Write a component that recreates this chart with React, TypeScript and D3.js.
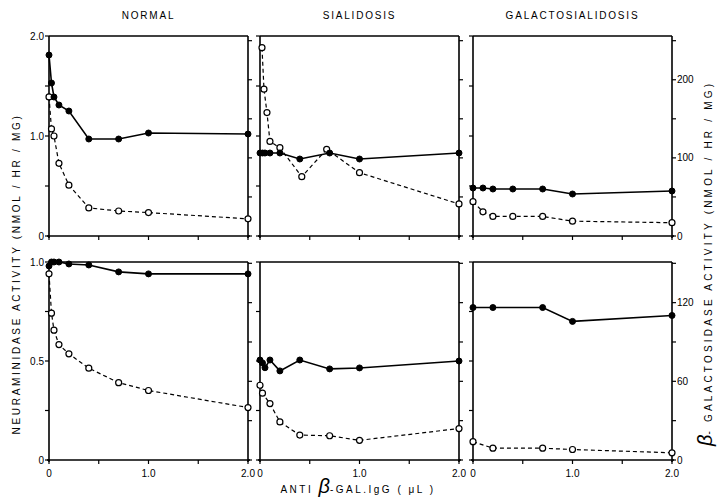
import React from 'react';
import * as d3 from 'd3';

// ---- labels ----
const titles = ['NORMAL', 'SIALIDOSIS', 'GALACTOSIALIDOSIS'];
const xTicks = [0, 0.5, 1, 1.5, 2];
const xTickLabels = ['0', '', '1.0', '', '2.0'];
const leftTopTicks = [0, 0.5, 1, 1.5, 2];
const leftTopLabels = ['0', '', '1.0', '', '2.0'];
const leftBotTicks = [0, 0.25, 0.5, 0.75, 1];
const leftBotLabels = ['0', '', '0.5', '', '1.0'];
const rightTopTicks = [0, 50, 100, 150, 200, 250];
const rightTopLabels = ['0', '', '100', '', '200', ''];
const rightBotTicks = [0, 30, 60, 90, 120, 150];
const rightBotLabels = ['0', '', '60', '', '120', ''];

// ---- data: filled = neuraminidase (left axis), open = beta-galactosidase (right axis) ----
const normTopX = [0, 0.025, 0.05, 0.1, 0.2, 0.4, 0.7, 1, 2];
const normTopNeu = [1.81, 1.53, 1.39, 1.31, 1.25, 0.97, 0.97, 1.03, 1.02];
const normTopGal = [178, 137, 128, 93, 65, 36, 32, 30, 22];

const sialTopX = [0, 0.025, 0.05, 0.1, 0.2, 0.4, 0.7, 1, 2];
const sialTopNeu = [0.83, 0.83, 0.83, 0.83, 0.83, 0.77, 0.83, 0.77, 0.83];
const sialTopGalX = [0.02, 0.04, 0.07, 0.1, 0.2, 0.42, 0.67, 1, 2];
const sialTopGal = [241, 188, 158, 121, 113, 76, 111, 81, 41];

const galTopX = [0, 0.1, 0.2, 0.4, 0.7, 1, 2];
const galTopNeu = [0.48, 0.48, 0.47, 0.47, 0.47, 0.42, 0.45];
const galTopGal = [44, 31, 25, 25, 25, 19, 17];

const normBotX = [0, 0.025, 0.05, 0.1, 0.2, 0.4, 0.7, 1, 2];
const normBotNeu = [0.98, 1.0, 1.0, 1.0, 0.99, 0.985, 0.95, 0.94, 0.94];
const normBotGal = [142, 112, 99, 88, 81, 70, 59, 53, 40];

const sialBotX = [0, 0.025, 0.05, 0.1, 0.2, 0.4, 0.7, 1, 2];
const sialBotNeu = [0.505, 0.49, 0.466, 0.505, 0.45, 0.505, 0.46, 0.465, 0.5];
const sialBotGalX = [0, 0.025, 0.1, 0.2, 0.4, 0.7, 1, 2];
const sialBotGal = [57, 51, 43, 29, 19, 18.5, 15, 24];

const galBotX = [0, 0.2, 0.7, 1, 2];
const galBotNeu = [0.77, 0.77, 0.77, 0.7, 0.73];
const galBotGal = [14, 9, 9, 8, 5.5];

// ---- layout ----
const W = 719;
const H = 500;
const panelLefts = [49, 260, 473];
const panelW = 199;
const rows = [
  { top: 36, bottom: 236, leftMax: 2, rightMax: 256 },
  { top: 262, bottom: 460, leftMax: 1, rightMax: 151 },
];

const FONT = "'Liberation Sans', Arial, sans-serif";

type Series = { nx: number[]; ny: number[]; gx: number[]; gy: number[] };
const seriesGrid: Series[][] = [
  [
    { nx: normTopX, ny: normTopNeu, gx: normTopX, gy: normTopGal },
    { nx: sialTopX, ny: sialTopNeu, gx: sialTopGalX, gy: sialTopGal },
    { nx: galTopX, ny: galTopNeu, gx: galTopX, gy: galTopGal },
  ],
  [
    { nx: normBotX, ny: normBotNeu, gx: normBotX, gy: normBotGal },
    { nx: sialBotX, ny: sialBotNeu, gx: sialBotGalX, gy: sialBotGal },
    { nx: galBotX, ny: galBotNeu, gx: galBotX, gy: galBotGal },
  ],
];

function Panel({ row, col }: { row: number; col: number }) {
  const r = rows[row];
  const x0 = panelLefts[col];
  const x = d3.scaleLinear().domain([0, 2]).range([x0, x0 + panelW]);
  const yL = d3.scaleLinear().domain([0, r.leftMax]).range([r.bottom, r.top]);
  const yR = d3.scaleLinear().domain([0, r.rightMax]).range([r.bottom, r.top]);
  const s = seriesGrid[row][col];
  const neuPts: [number, number][] = s.nx.map((v, i) => [x(v), yL(s.ny[i])]);
  const galPts: [number, number][] = s.gx.map((v, i) => [x(v), yR(s.gy[i])]);
  const line = d3.line();
  const lTicks = row === 0 ? leftTopTicks : leftBotTicks;
  const lLabels = row === 0 ? leftTopLabels : leftBotLabels;
  const rTicks = row === 0 ? rightTopTicks : rightBotTicks;
  const rLabels = row === 0 ? rightTopLabels : rightBotLabels;
  const xr = x0 + panelW;
  return (
    <g>
      {/* frame */}
      <g stroke="#000" strokeWidth={1.6} fill="none">
        <line x1={x0} x2={xr} y1={r.top} y2={r.top} />
        <line x1={x0 - 2} x2={xr + 2} y1={r.bottom} y2={r.bottom} />
        <line x1={x0} x2={x0} y1={r.top} y2={r.bottom + 2} />
        <line x1={xr} x2={xr} y1={r.top} y2={r.bottom + 2} />
      </g>
      {/* x ticks */}
      {xTicks.map((t) => (
        <line key={'xt' + t} x1={x(t)} x2={x(t)} y1={r.bottom} y2={r.bottom + 4} stroke="#000" strokeWidth={1.2} />
      ))}
      {row === 1 &&
        xTicks.map((t, i) =>
          xTickLabels[i] ? (
            <text key={'xl' + t} x={x(t)} y={r.bottom + 17} fontSize={10} fontFamily={FONT} textAnchor="middle">
              {xTickLabels[i]}
            </text>
          ) : null
        )}
      {/* left ticks */}
      {lTicks.map((t) => (
        <line key={'lt' + t} x1={x0 - 4} x2={x0} y1={yL(t)} y2={yL(t)} stroke="#000" strokeWidth={1.2} />
      ))}
      {col === 0 &&
        lTicks.map((t, i) =>
          lLabels[i] ? (
            <text key={'ll' + t} x={x0 - 5} y={yL(t) + 3.5} fontSize={10} fontFamily={FONT} textAnchor="end">
              {lLabels[i]}
            </text>
          ) : null
        )}
      {/* right ticks */}
      {rTicks.map((t) => (
        <line key={'rt' + t} x1={xr} x2={xr + 4} y1={yR(t)} y2={yR(t)} stroke="#000" strokeWidth={1.2} />
      ))}
      {col === 2 &&
        rTicks.map((t, i) =>
          rLabels[i] ? (
            <text key={'rl' + t} x={xr + 5} y={yR(t) + 3.5} fontSize={10} fontFamily={FONT} textAnchor="start">
              {rLabels[i]}
            </text>
          ) : null
        )}
      {/* series */}
      <path d={line(galPts) || ''} fill="none" stroke="#000" strokeWidth={1.2} strokeDasharray="4,3" />
      <path d={line(neuPts) || ''} fill="none" stroke="#000" strokeWidth={1.6} />
      {galPts.map((p, i) => (
        <circle key={'g' + i} cx={p[0]} cy={p[1]} r={3} fill="#fff" stroke="#000" strokeWidth={1.2} />
      ))}
      {neuPts.map((p, i) => (
        <circle key={'n' + i} cx={p[0]} cy={p[1]} r={3} fill="#000" stroke="#000" strokeWidth={1} />
      ))}
      {row === 0 && (
        <text
          x={x0 + panelW / 2}
          y={19}
          fontSize={10}
          fontFamily={FONT}
          textAnchor="middle"
          letterSpacing={1.8}
        >
          {titles[col]}
        </text>
      )}
    </g>
  );
}

export default function App() {
  return (
    <svg
      width={W}
      height={H}
      viewBox={`0 0 ${W} ${H}`}
      style={{ position: 'absolute', left: 0, top: 0, background: '#fff' }}
    >
      <rect x={0} y={0} width={W} height={H} fill="#fff" />
      {[0, 1].map((row) => [0, 1, 2].map((col) => <Panel key={`${row}-${col}`} row={row} col={col} />))}
      {/* left y label */}
      <text
        transform="translate(20,274) rotate(-90)"
        fontSize={10}
        fontFamily={FONT}
        textAnchor="middle"
        letterSpacing={2.7}
      >
        NEURAMINIDASE ACTIVITY (NMOL / HR / MG)
      </text>
      {/* right y label */}
      <text transform="translate(712,446) rotate(-90)" fontFamily={FONT} textAnchor="start">
        <tspan fontSize={20} fontStyle="italic">β</tspan>
        <tspan fontSize={10} letterSpacing={3.2}>- GALACTOSIDASE ACTIVITY (NMOL / HR / MG)</tspan>
      </text>
      {/* x label */}
      <text x={358} y={493} fontFamily={FONT} textAnchor="middle">
        <tspan fontSize={10} letterSpacing={2.5}>ANTI </tspan>
        <tspan fontSize={20} fontStyle="italic">β</tspan>
        <tspan fontSize={10} letterSpacing={2.5}>-GAL.IgG ( μL )</tspan>
      </text>
    </svg>
  );
}
